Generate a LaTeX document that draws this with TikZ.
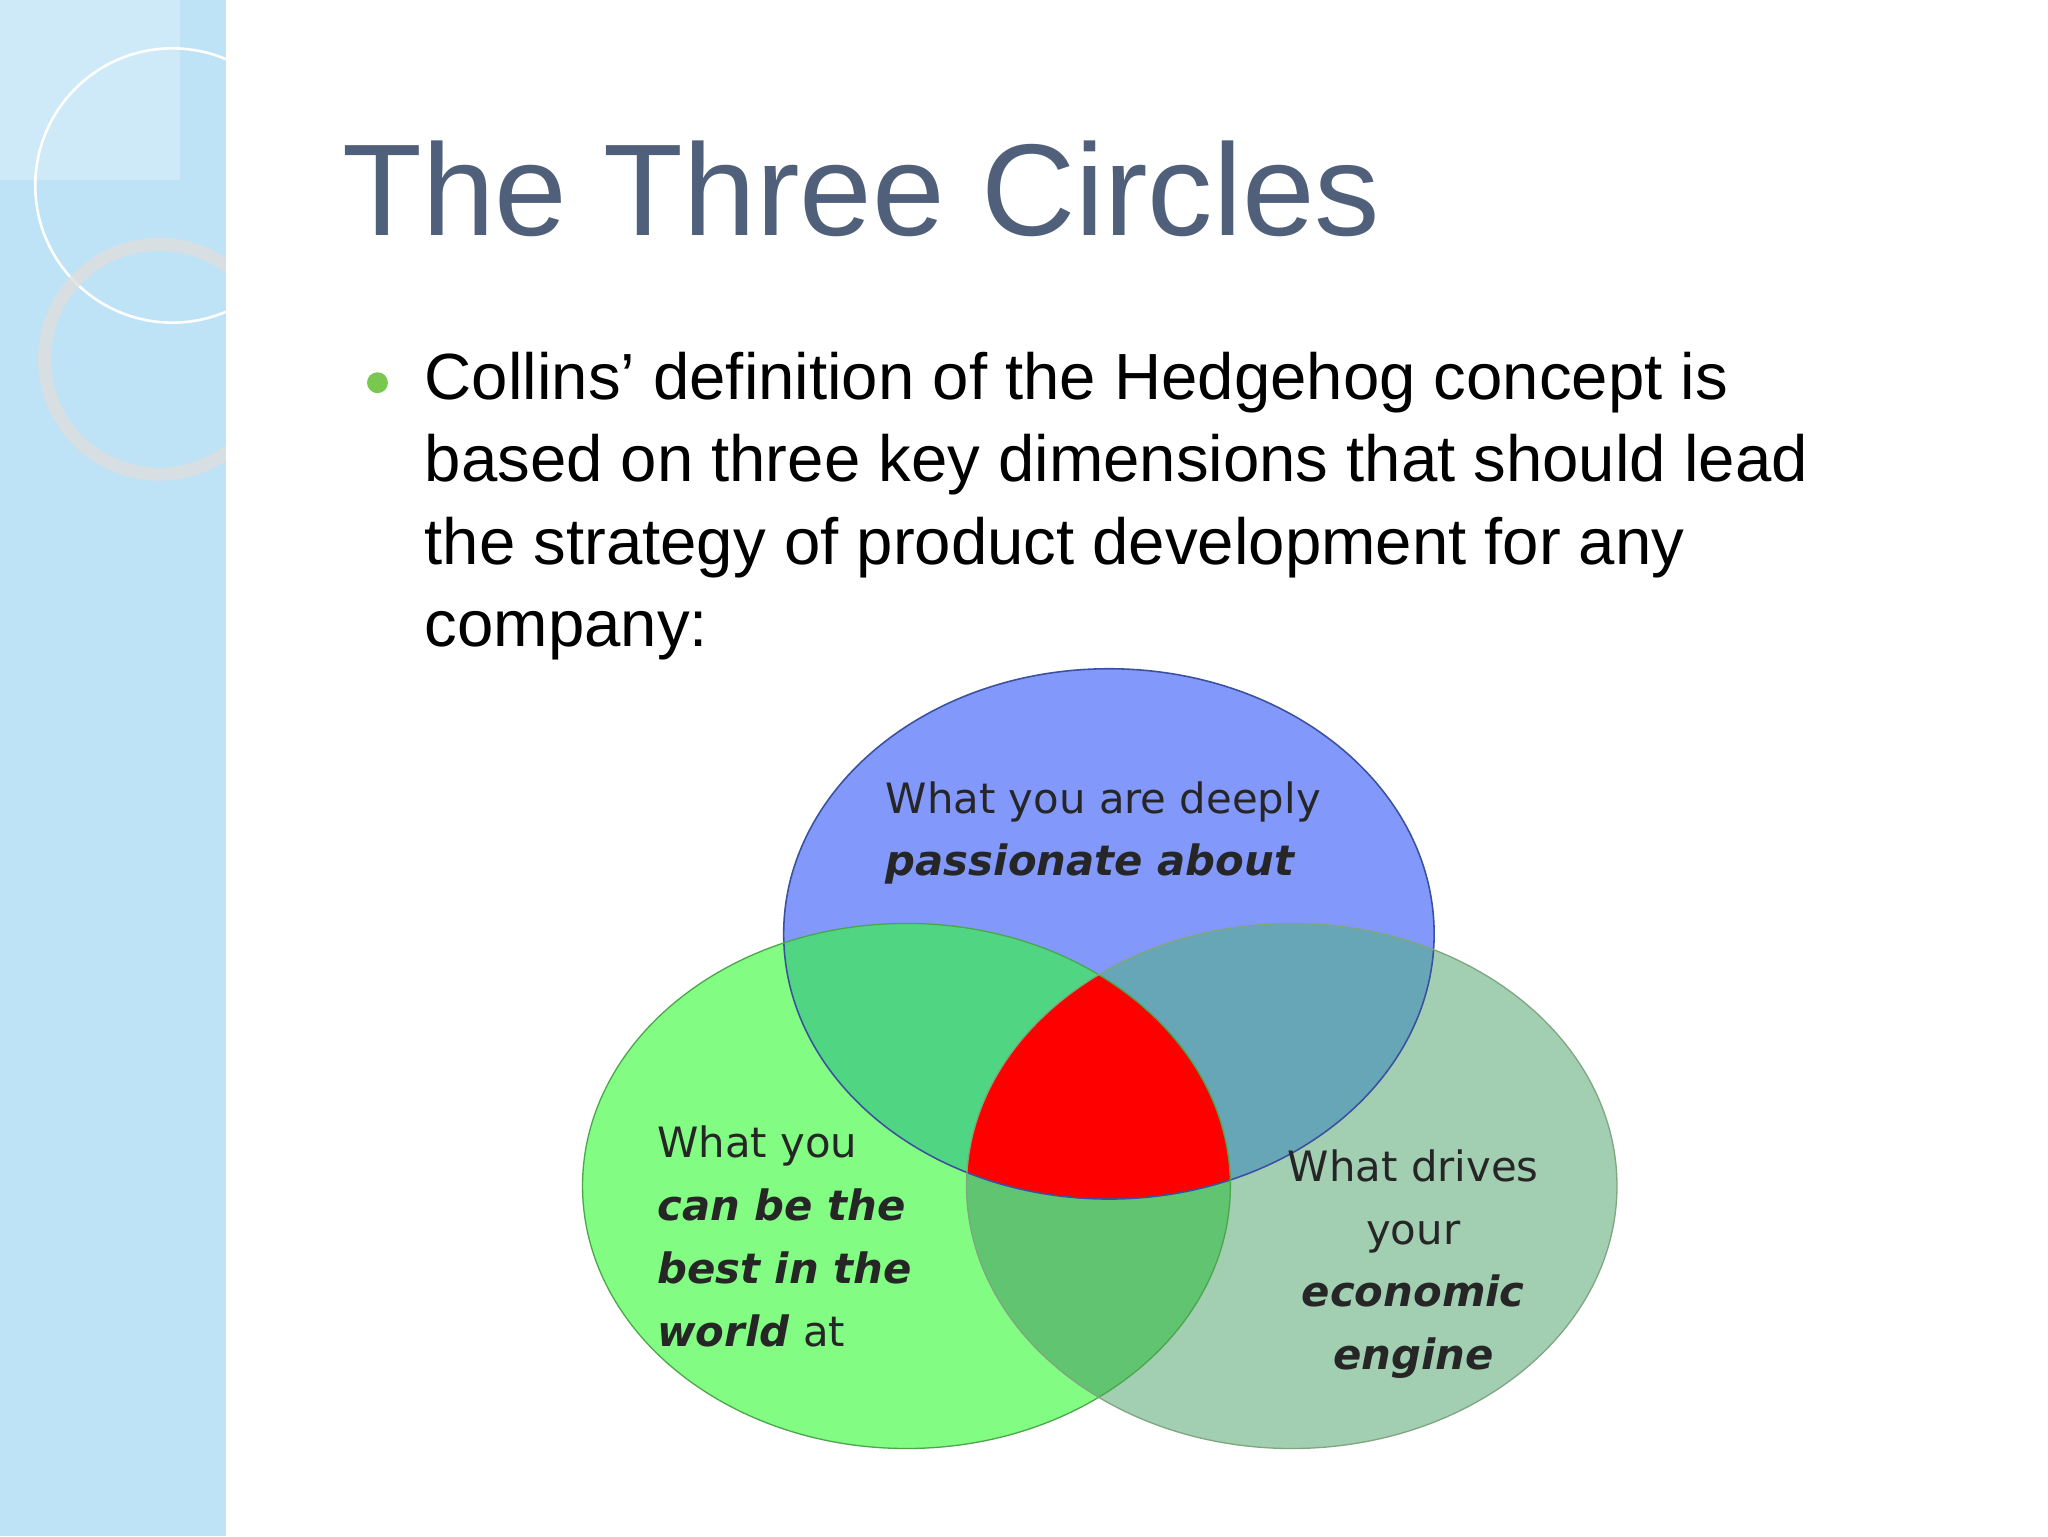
\documentclass[tikz,border=0pt]{standalone}
\usepackage{fontspec}
\setmainfont{Liberation Sans}
\newfontfamily\verd{DejaVu Sans}
\definecolor{strip}{RGB}{190,226,246}
\definecolor{titlec}{RGB}{80,96,122}
\definecolor{bull}{RGB}{120,200,80}
\definecolor{topc}{RGB}{130,152,250}
\definecolor{leftc}{RGB}{130,252,130}
\definecolor{rightc}{RGB}{162,206,178}
\definecolor{tlc}{RGB}{80,214,130}
\definecolor{trc}{RGB}{102,166,182}
\definecolor{lrc}{RGB}{96,196,112}
\definecolor{edgec}{RGB}{60,80,160}
\tikzset{
 body/.style={anchor=base west,font=\fontsize{50}{60}\selectfont,inner sep=0},
 lab/.style={font=\verd\fontsize{32}{48}\selectfont,text=black!85,inner sep=0,align=left},
 labc/.style={font=\verd\fontsize{32}{48}\selectfont,text=black!85,inner sep=0,align=center},
}
\begin{document}
\begin{tikzpicture}[x=1pt,y=-1pt]
\useasboundingbox (0,0) rectangle (1568,1176);
\fill[white] (0,0) rectangle (1568,1176);
% left strip
\fill[strip] (0,0) rectangle (173,1176);
\begin{scope}
\clip (0,0) rectangle (173,1176);
\fill[white,opacity=0.25] (0,0) rectangle (138,138);
\draw[white,line width=2] (132,142) circle (105);
\draw[gray!25,line width=10,opacity=0.8] (122,275) circle (88);
\end{scope}
% title
\node[anchor=base west,inner sep=0,text=titlec,font=\fontsize{100}{110}\selectfont] (title) at (262,180) {The Three Circles};
% bullet
\fill[bull] (289,293) circle (8);
\node[body] (l1) at (325,306) {Collins’ definition of the Hedgehog concept is};
\node[body] (l2) at (325,369) {based on three key dimensions that should lead};
\node[body] (l3) at (325,432) {the strategy of product development for any};
\node[body] (l4) at (325,495) {company:};
% venn
\def\TOP{(849,715) ellipse [x radius=249,y radius=203]}
\def\LEF{(694,908) ellipse [x radius=248,y radius=201]}
\def\RIG{(989,908) ellipse [x radius=249,y radius=201]}
\fill[topc] \TOP; \fill[leftc] \LEF; \fill[rightc] \RIG;
\begin{scope}\clip \TOP; \fill[tlc] \LEF; \fill[trc] \RIG; \end{scope}
\begin{scope}\clip \LEF; \fill[lrc] \RIG; \end{scope}
\begin{scope}\clip \TOP; \clip \LEF; \fill[red] \RIG; \end{scope}
\draw[edgec,line width=1.2] \TOP;
\draw[green!50!black!70,line width=1] \LEF;
\draw[green!30!black!50,line width=1] \RIG;
\node[lab,anchor=north west] (tt) at (678,598) {What you are deeply\\\textbf{\textit{passionate about}}};
\node[lab,anchor=north west] (lt) at (503,862) {What you\\\textbf{\textit{can be the}}\\\textbf{\textit{best in the}}\\\textbf{\textit{world}} at};
\node[labc,anchor=north] (rt) at (1082,880) {What drives\\your\\\textbf{\textit{economic}}\\\textbf{\textit{engine}}};
\end{tikzpicture}
\end{document}
